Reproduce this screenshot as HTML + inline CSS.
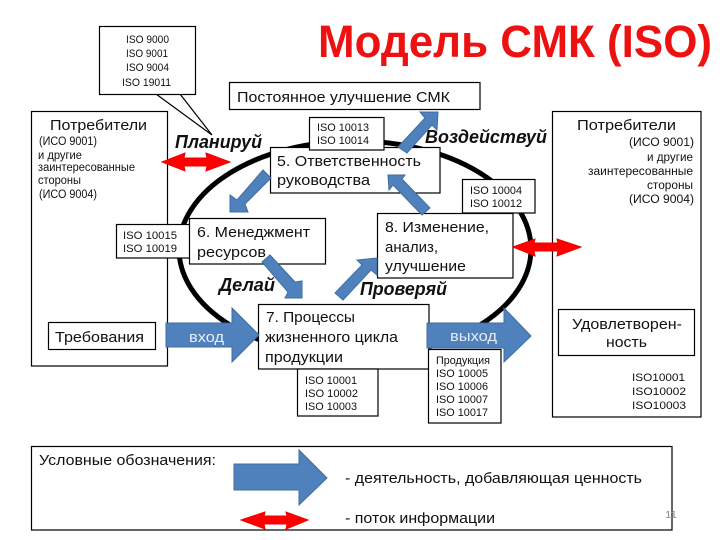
<!DOCTYPE html>
<html><head><meta charset="utf-8">
<style>
html,body{margin:0;padding:0;background:#fff;width:720px;height:540px;overflow:hidden}
svg{display:block}
text{font-family:"Liberation Sans",sans-serif;fill:#111;font-size:14.5px}
.s{font-size:11px}
.m{font-size:11.5px}
.b{font-family:"Liberation Sans",sans-serif;font-weight:bold;font-style:italic;font-size:18px;fill:#111}
.r{fill:#fff;stroke:#000;stroke-width:1.2}
.a{fill:#4f81bd;stroke:#3f6d9e;stroke-width:1}
.h{fill:#f00;stroke:#e00;stroke-width:1}
</style></head><body>
<svg width="720" height="540" viewBox="0 0 720 540" xmlns="http://www.w3.org/2000/svg">
<rect width="720" height="540" fill="#fff"/>
<text x="318" y="57" style="font-size:45px;font-weight:bold;fill:#ee1111" textLength="394" lengthAdjust="spacingAndGlyphs">Модель СМК (ISO)</text>

<polyline points="156,94 212,135 180,94" fill="#fff" stroke="#000" stroke-width="1.2"/>
<rect class="r" x="99.5" y="26.5" width="96" height="68"/>
<text class="s" x="126" y="43" textLength="43" lengthAdjust="spacingAndGlyphs">ISO 9000</text>
<text class="s" x="126" y="57" textLength="42" lengthAdjust="spacingAndGlyphs">ISO 9001</text>
<text class="s" x="126" y="71" textLength="43" lengthAdjust="spacingAndGlyphs">ISO 9004</text>
<text class="s" x="122" y="86" textLength="49" lengthAdjust="spacingAndGlyphs">ISO 19011</text>

<rect class="r" x="229.5" y="82.5" width="250.5" height="27"/>
<text x="237" y="102" textLength="213" lengthAdjust="spacingAndGlyphs">Постоянное улучшение СМК</text>

<ellipse cx="355" cy="249" rx="176" ry="108" fill="none" stroke="#000" stroke-width="5"/>

<rect class="r" x="31.5" y="111.5" width="136" height="254.5"/>
<text x="50" y="130" textLength="97" lengthAdjust="spacingAndGlyphs">Потребители</text>
<text class="m" x="39" y="145" textLength="58" lengthAdjust="spacingAndGlyphs">(ИСО 9001)</text>
<text class="m" x="38" y="159" textLength="44" lengthAdjust="spacingAndGlyphs">и другие</text>
<text class="m" x="38" y="171" textLength="97" lengthAdjust="spacingAndGlyphs">заинтересованные</text>
<text class="m" x="38" y="184" textLength="43" lengthAdjust="spacingAndGlyphs">стороны</text>
<text class="m" x="39" y="198" textLength="58" lengthAdjust="spacingAndGlyphs">(ИСО 9004)</text>

<rect class="r" x="552.5" y="111.5" width="148.5" height="305.5"/>
<text x="577" y="130" textLength="99" lengthAdjust="spacingAndGlyphs">Потребители</text>
<text class="m" x="629" y="146" textLength="65" lengthAdjust="spacingAndGlyphs">(ИСО 9001)</text>
<text class="m" x="647" y="161" textLength="46" lengthAdjust="spacingAndGlyphs">и другие</text>
<text class="m" x="588" y="175" textLength="105" lengthAdjust="spacingAndGlyphs">заинтересованные</text>
<text class="m" x="647" y="189" textLength="46" lengthAdjust="spacingAndGlyphs">стороны</text>
<text class="m" x="629" y="203" textLength="65" lengthAdjust="spacingAndGlyphs">(ИСО 9004)</text>

<rect class="r" x="270.5" y="147.5" width="169.5" height="45.5"/>
<text x="277" y="166" textLength="144" lengthAdjust="spacingAndGlyphs">5. Ответственность</text>
<text x="277" y="185" textLength="93" lengthAdjust="spacingAndGlyphs">руководства</text>

<rect class="r" x="309.5" y="117.5" width="74.5" height="32.5"/>
<text class="s" x="317" y="131" textLength="52" lengthAdjust="spacingAndGlyphs">ISO 10013</text>
<text class="s" x="317" y="144" textLength="52" lengthAdjust="spacingAndGlyphs">ISO 10014</text>

<rect class="r" x="462.5" y="179.5" width="72.5" height="33.5"/>
<text class="s" x="470" y="194" textLength="52" lengthAdjust="spacingAndGlyphs">ISO 10004</text>
<text class="s" x="470" y="207" textLength="52" lengthAdjust="spacingAndGlyphs">ISO 10012</text>

<rect class="r" x="116.5" y="224.5" width="73.5" height="33.5"/>
<text class="s" x="123" y="239" textLength="54" lengthAdjust="spacingAndGlyphs">ISO 10015</text>
<text class="s" x="123" y="252" textLength="54" lengthAdjust="spacingAndGlyphs">ISO 10019</text>

<rect class="r" x="189.5" y="218.5" width="136" height="45.5"/>
<text x="197" y="237" textLength="113" lengthAdjust="spacingAndGlyphs">6. Менеджмент</text>
<text x="197" y="257" textLength="69" lengthAdjust="spacingAndGlyphs">ресурсов</text>

<rect class="r" x="377.5" y="213.5" width="135.5" height="64.5"/>
<text x="385" y="232" textLength="104" lengthAdjust="spacingAndGlyphs">8. Изменение,</text>
<text x="385" y="252" textLength="53" lengthAdjust="spacingAndGlyphs">анализ,</text>
<text x="385" y="271" textLength="81" lengthAdjust="spacingAndGlyphs">улучшение</text>

<text class="b" x="175" y="148" textLength="87" lengthAdjust="spacingAndGlyphs">Планируй</text>
<text class="b" x="425" y="143" textLength="122" lengthAdjust="spacingAndGlyphs">Воздействуй</text>
<text class="b" x="219" y="291" textLength="56" lengthAdjust="spacingAndGlyphs">Делай</text>
<text class="b" x="360" y="295" textLength="87" lengthAdjust="spacingAndGlyphs">Проверяй</text>

<polygon class="a" points="263,170 271,178 245,204 248,212 230,212 230,195 237,200"/>
<polygon class="a" points="270,255 295,282 302,281 302,298 285,298 288,292 262,262"/>
<polygon class="a" points="335,293 362,265 357,260 377,258 377,275 371,270 343,300"/>
<polygon class="a" points="388,175 405,175 402,179 430,208 422,215 393,185 389,190"/>
<polygon class="a" points="398,147 425,118 420,112 438,112 437,130 432,125 407,153"/>

<polygon class="h" points="162,162 185,153 184,158 207,158 206,153 230,162 206,171 207,166 184,166 185,171"/>
<polygon class="h" points="513,247 535,239 534,243 558,243 557,239 581,247 557,256 558,251 534,251 535,256"/>

<rect class="r" x="258.5" y="304.5" width="170.5" height="64.5"/>
<text x="266" y="322" textLength="89" lengthAdjust="spacingAndGlyphs">7. Процессы</text>
<text x="265" y="342" textLength="133" lengthAdjust="spacingAndGlyphs">жизненного цикла</text>
<text x="265" y="362" textLength="78" lengthAdjust="spacingAndGlyphs">продукции</text>

<rect class="r" x="297.5" y="369" width="80.5" height="47"/>
<text class="s" x="305" y="384" textLength="52" lengthAdjust="spacingAndGlyphs">ISO 10001</text>
<text class="s" x="305" y="397" textLength="53" lengthAdjust="spacingAndGlyphs">ISO 10002</text>
<text class="s" x="305" y="410" textLength="52" lengthAdjust="spacingAndGlyphs">ISO 10003</text>

<polygon class="a" points="166,323 232,323 232,308 259,335 232,362 232,347 166,347"/>
<text x="189" y="342" textLength="35" lengthAdjust="spacingAndGlyphs" style="fill:#e8eef6">вход</text>
<polygon class="a" points="427,323 504,323 504,308 531,336 504,362 504,348 427,348"/>
<text x="450" y="341" textLength="47" lengthAdjust="spacingAndGlyphs" style="fill:#e8eef6">выход</text>

<rect class="r" x="428.5" y="349.5" width="72.5" height="73.5"/>
<text class="s" x="436" y="364" textLength="54" lengthAdjust="spacingAndGlyphs">Продукция</text>
<text class="s" x="436" y="377" textLength="52" lengthAdjust="spacingAndGlyphs">ISO 10005</text>
<text class="s" x="436" y="390" textLength="52" lengthAdjust="spacingAndGlyphs">ISO 10006</text>
<text class="s" x="436" y="403" textLength="52" lengthAdjust="spacingAndGlyphs">ISO 10007</text>
<text class="s" x="436" y="416" textLength="52" lengthAdjust="spacingAndGlyphs">ISO 10017</text>

<rect class="r" x="48.5" y="322.5" width="107" height="27"/>
<text x="55" y="342" textLength="89" lengthAdjust="spacingAndGlyphs">Требования</text>

<rect class="r" x="558.5" y="309.5" width="136" height="46"/>
<text x="572" y="329" textLength="110" lengthAdjust="spacingAndGlyphs">Удовлетворен-</text>
<text x="606" y="347" textLength="41" lengthAdjust="spacingAndGlyphs">ность</text>
<text class="s" x="632" y="381" textLength="53" lengthAdjust="spacingAndGlyphs">ISO10001</text>
<text class="s" x="632" y="395" textLength="54" lengthAdjust="spacingAndGlyphs">ISO10002</text>
<text class="s" x="632" y="409" textLength="54" lengthAdjust="spacingAndGlyphs">ISO10003</text>

<rect class="r" x="31.5" y="446.5" width="640.5" height="83.5"/>
<text x="39" y="465" textLength="177" lengthAdjust="spacingAndGlyphs">Условные обозначения:</text>
<polygon class="a" points="234,464 299,464 299,450 327,478 299,505 299,490 234,490"/>
<polygon class="h" points="241,520 265,512 264,516 287,516 286,512 308,520 286,529 287,524 264,524 265,529"/>
<text x="345" y="483" textLength="297" lengthAdjust="spacingAndGlyphs">- деятельность, добавляющая ценность</text>
<text x="345" y="523" textLength="150" lengthAdjust="spacingAndGlyphs">- поток информации</text>
<text x="665" y="518" textLength="12" lengthAdjust="spacingAndGlyphs" style="font-size:10px;fill:#8a8a8a">11</text>
</svg>
</body></html>
